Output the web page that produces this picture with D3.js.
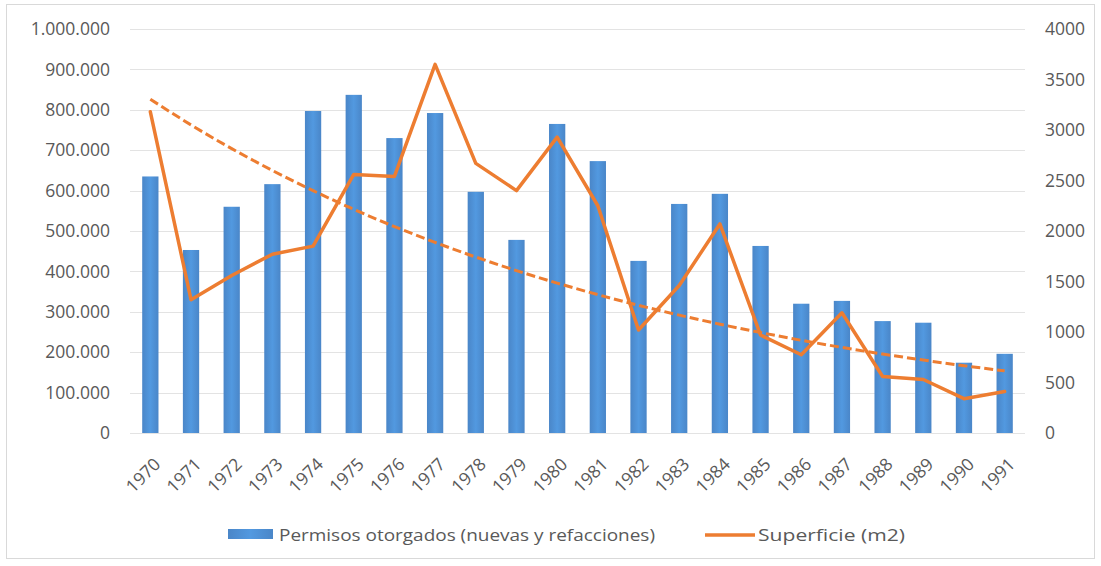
<!DOCTYPE html>
<html><head><meta charset="utf-8">
<script src="https://cdn.jsdelivr.net/npm/d3@7/dist/d3.min.js"></script>
<style>
body{margin:0;background:#fff}
svg{display:block}
text{font-family:"Open Sans",sans-serif;fill:#595959}
</style>
</head><body>
<svg id="chart" width="1101" height="566"></svg>
<script>
// ---- data ----
const years = ["1970","1971","1972","1973","1974","1975","1976","1977","1978","1979","1980","1981","1982","1983","1984","1985","1986","1987","1988","1989","1990","1991"];
const permisos = [635000,453000,560000,616000,797000,837000,730000,792000,597000,478000,765000,673000,426000,567000,592000,463000,320000,327000,277000,273000,174000,196000];
const superficie = [3180,1320,1560,1770,1850,2560,2540,3650,2670,2400,2930,2250,1020,1460,2070,970,775,1190,560,530,340,410];
const leftTicks = [0,100000,200000,300000,400000,500000,600000,700000,800000,900000,1000000];
const rightTicks = [0,500,1000,1500,2000,2500,3000,3500,4000];
const seriesNames = ["Permisos otorgados (nuevas y refacciones)","Superficie (m2)"];

// ---- layout ----
const svg = d3.select("#chart");
const L = 130, R = 1025, T = 29, B = 433;
const orange = "#ED7D31";

const x = d3.scaleBand().domain(years).range([L, R]).paddingInner(0.6).paddingOuter(0.3);
const yL = d3.scaleLinear().domain([0, 1000000]).range([B, T]);
const yR = d3.scaleLinear().domain([0, 4000]).range([B, T]);

const loc = d3.formatLocale({decimal: ",", thousands: ".", grouping: [3], currency: ["", ""]});
const fmt = loc.format(",d");

// outer border
svg.append("rect").attr("x", 6.5).attr("y", 4.5).attr("width", 1088).attr("height", 554)
  .attr("fill", "#fff").attr("stroke", "#d9d9d9");

// gradient for bars
const defs = svg.append("defs");
const g = defs.append("linearGradient").attr("id", "barGrad").attr("x1", "0").attr("x2", "1").attr("y1", "0").attr("y2", "0");
g.append("stop").attr("offset", "0%").attr("stop-color", "#4a86c8");
g.append("stop").attr("offset", "50%").attr("stop-color", "#5299e0");
g.append("stop").attr("offset", "100%").attr("stop-color", "#4a86c8");

// gridlines
svg.append("g").selectAll("line").data(leftTicks).join("line")
  .attr("x1", L).attr("x2", R)
  .attr("y1", d => Math.round(yL(d)) + 0.5).attr("y2", d => Math.round(yL(d)) + 0.5)
  .attr("stroke", "#e3e3e3").attr("stroke-width", 1);

// left axis
const axL = svg.append("g").attr("transform", "translate(110,0)")
  .call(d3.axisLeft(yL).tickValues(leftTicks).tickFormat(fmt).tickSize(0).tickPadding(0));
axL.select(".domain").remove();
axL.selectAll("text").style("font-size", "17.5px").style("font-family", "'Open Sans',sans-serif").attr("fill", "#606060");

// right axis
const axR = svg.append("g").attr("transform", "translate(1045,0)")
  .call(d3.axisRight(yR).tickValues(rightTicks).tickFormat(d3.format("d")).tickSize(0).tickPadding(0));
axR.select(".domain").remove();
axR.selectAll("text").style("font-size", "17.5px").style("font-family", "'Open Sans',sans-serif").attr("fill", "#606060");

// x axis
const axX = svg.append("g").attr("transform", `translate(0,${B})`)
  .call(d3.axisBottom(x).tickSize(0).tickPadding(0));
axX.select(".domain").remove();
axX.selectAll("text").style("font-size", "17.5px").style("font-family", "'Open Sans',sans-serif").attr("fill", "#606060")
  .attr("x", 0).attr("y", 0).attr("dy", "0.35em")
  .attr("text-anchor", "end")
  .attr("transform", "translate(7,28) rotate(-45)");

// bars
svg.append("g").selectAll("rect").data(years).join("rect")
  .attr("x", d => x(d)).attr("width", x.bandwidth())
  .attr("y", (d, i) => yL(permisos[i])).attr("height", (d, i) => B - yL(permisos[i]))
  .attr("fill", "url(#barGrad)");

// exponential trendline (least squares on ln y) computed from superficie
const n = superficie.length;
const xs = d3.range(n);
const ly = superficie.map(v => Math.log(v));
const mx = d3.mean(xs), my = d3.mean(ly);
const slope = d3.sum(xs, (xi, i) => (xi - mx) * (ly[i] - my)) / d3.sum(xs, xi => (xi - mx) * (xi - mx));
const icpt = my - slope * mx;
const trend = xs.map(xi => Math.exp(icpt + slope * xi));

const cx = d => x(d) + x.bandwidth() / 2;

svg.append("path").datum(years)
  .attr("fill", "none").attr("stroke", orange).attr("stroke-width", 3)
  .attr("stroke-dasharray", "9,4")
  .attr("d", d3.line().x(d => cx(d)).y((d, i) => yR(trend[i])).curve(d3.curveMonotoneX));

// main line
svg.append("path").datum(years)
  .attr("fill", "none").attr("stroke", orange).attr("stroke-width", 3.5)
  .attr("stroke-linejoin", "round").attr("stroke-linecap", "round")
  .attr("d", d3.line().x(d => cx(d)).y((d, i) => yR(superficie[i])));

// legend
const lg = svg.append("g");
lg.append("rect").attr("x", 228).attr("y", 529).attr("width", 45).attr("height", 10).attr("fill", "url(#barGrad)");
lg.append("text").attr("x", 279).attr("y", 541).style("font-size", "17px").attr("fill", "#606060")
  .attr("textLength", 376).attr("lengthAdjust", "spacingAndGlyphs").text(seriesNames[0]);
lg.append("line").attr("x1", 705).attr("x2", 755).attr("y1", 535).attr("y2", 535)
  .attr("stroke", orange).attr("stroke-width", 3.5);
lg.append("text").attr("x", 758).attr("y", 541).style("font-size", "17px").attr("fill", "#606060")
  .attr("textLength", 147).attr("lengthAdjust", "spacingAndGlyphs").text(seriesNames[1]);
</script>
</body></html>
